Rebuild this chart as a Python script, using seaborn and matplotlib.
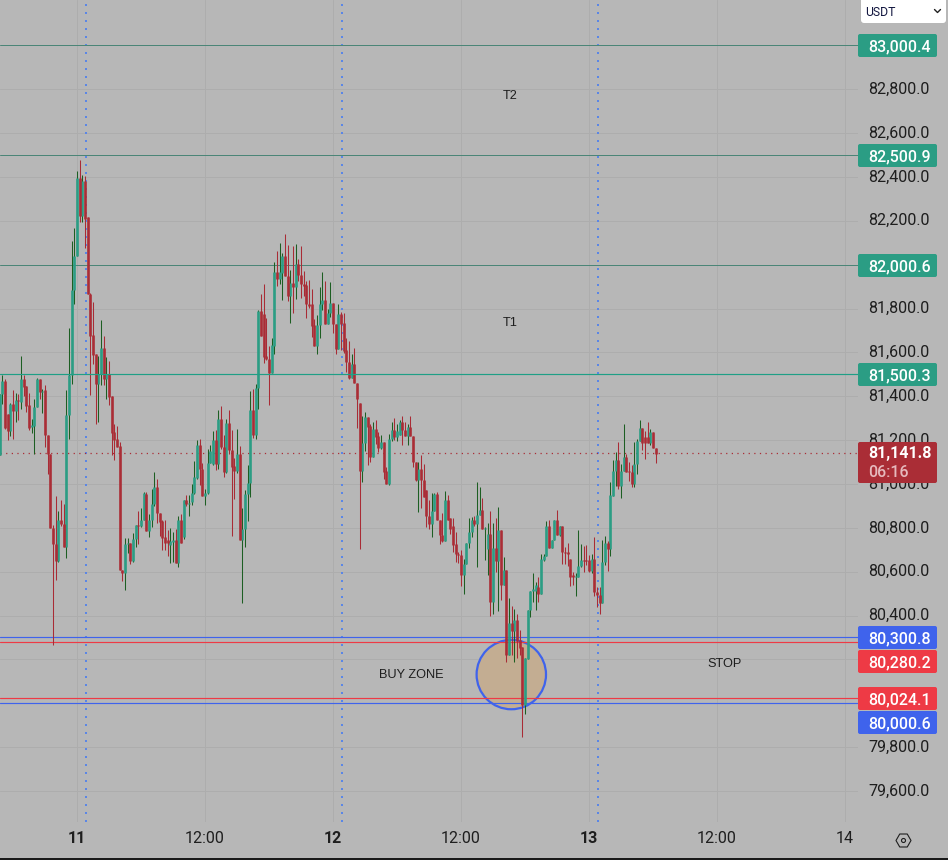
import matplotlib
matplotlib.use("Agg")
import matplotlib.pyplot as plt
import numpy as np
import pandas as pd
import seaborn as sns
from matplotlib.patches import Rectangle, FancyBboxPatch, Ellipse, RegularPolygon, Circle
from matplotlib.lines import Line2D
from matplotlib.transforms import IdentityTransform, ScaledTranslation

first_bar = -29   # index of first 15-minute bar relative to 11th 00:00
bars_per_day = 96

opens = [
 81133,81412,81468,81317,81241,81363,81332,81382,81374,81478,
 81446,81359,81258,81263,81349,81478,81420,81427,81222,81138,
 80801,80728,80649,80834,80816,80712,81313,81496,81884,82039,
 82397,82222,82380,82216,81868,81678,81591,81458,81501,81618,
 81478,81501,81400,81236,81204,81171,80610,80594,80725,80730,
 80649,80750,80811,80807,80838,80956,80785,80838,80910,80986,
 80867,80831,80758,80745,80720,80735,80745,80639,80838,80758,
 80925,80910,80918,80960,81027,81176,81070,80943,80960,81097,
 81090,81199,81090,81298,81168,81054,81279,81153,81080,81059,
 81138,80743,80796,80953,81006,81336,81222,81439,81787,81776,
 81582,81568,81506,81629,81966,81933,81962,82038,81947,81855,
 81918,81898,82001,81954,81913,81906,81822,81819,81723,81627,
 81726,81819,81840,81728,81781,81827,81728,81614,81776,81735,
 81609,81556,81485,81545,81462,81368,81059,81188,81305,81263,
 81123,81252,81217,81164,81190,81057,80998,81206,81244,81214,
 81222,81281,81247,81217,81260,81217,81098,81016,81070,81019,
 80971,80852,80816,80876,80953,80838,80769,80741,80926,80847,
 80807,80725,80683,80675,80584,80634,80733,80779,80835,80817,
 80858,80880,80797,80702,80771,80462,80706,80648,80792,80538,
 80610,80219,80364,80329,80379,80288,80257,79991,80204,80424,
 80513,80513,80530,80497,80654,80671,80807,80709,80746,80835,
 80766,80807,80690,80690,80657,80584,80577,80576,80626,80652,
 80652,80652,80602,80657,80508,80496,80458,80645,80733,80703,
 80946,81058,81108,80990,81058,81124,81058,81055,81002,81089,
 81195,81256,81215,81215,81187,81238,81162]
closes = [
 81412,81468,81257,81241,81366,81333,81382,81378,81478,81443,
 81355,81256,81268,81349,81478,81420,81425,81222,81138,80801,
 80728,80649,80834,80816,80712,81313,81496,81884,82039,82397,
 82222,82380,82210,81868,81675,81587,81458,81501,81618,81478,
 81501,81397,81233,81199,81168,80606,80594,80725,80730,80649,
 80750,80811,80807,80838,80959,80785,80838,80910,80986,80867,
 80826,80753,80731,80730,80738,80745,80639,80838,80731,80925,
 80910,80912,80960,81031,81176,81068,80943,80960,81097,81149,
 81199,81090,81298,81168,81054,81279,81153,81077,81059,81138,
 80743,80796,80953,81006,81336,81222,81439,81787,81675,81579,
 81568,81506,81632,81966,81933,81966,82038,81947,81855,81918,
 81898,82001,81951,81913,81903,81819,81810,81719,81627,81726,
 81819,81840,81728,81781,81827,81728,81614,81776,81731,81606,
 81556,81485,81545,81462,81386,81059,81188,81305,81260,81123,
 81252,81214,81164,81190,81054,80998,81206,81244,81214,81240,
 81281,81244,81217,81260,81217,81098,81016,81070,81016,80940,
 80852,80816,80876,80953,80838,80769,80741,80926,80835,80797,
 80721,80683,80675,80584,80634,80733,80779,80835,80817,80858,
 80880,80797,80800,80771,80462,80706,80648,80792,80538,80610,
 80219,80364,80329,80379,80285,80250,79991,80207,80427,80513,
 80523,80538,80500,80657,80671,80807,80709,80746,80835,80766,
 80807,80690,80686,80683,80576,80576,80580,80626,80652,80648,
 80648,80602,80657,80508,80496,80458,80645,80733,80703,80949,
 81058,81108,80990,81058,81124,81055,81055,81002,81089,81197,
 81256,81187,81187,81187,81238,81162,81139]
highs = [
 81412,81498,81477,81317,81370,81427,81417,81409,81583,81496,
 81446,81414,81298,81387,81482,81478,81434,81450,81222,81138,
 80811,80943,80875,80925,80907,81427,81710,82107,82169,82426,
 82476,82408,82403,82216,81873,81829,81591,81583,81747,81674,
 81580,81561,81400,81272,81263,81191,80610,80755,80755,80730,
 80778,80815,80876,80889,80963,80963,80864,80975,81053,81021,
 80867,80835,80834,80790,80800,80782,80797,80852,80864,80925,
 80948,80948,81001,81103,81202,81206,81097,80975,81158,81180,
 81240,81244,81336,81354,81222,81298,81336,81244,81118,81249,
 81171,80892,80974,81085,81422,81431,81457,81792,81868,81913,
 81758,81627,81667,82010,82061,82100,82053,82138,82088,81974,
 82083,82093,82024,82083,81969,81924,81928,81887,81751,81769,
 81898,81966,81924,81799,81919,81827,81731,81819,81784,81781,
 81667,81650,81591,81618,81462,81368,81308,81326,81305,81272,
 81281,81293,81235,81222,81190,81077,81226,81281,81299,81275,
 81290,81308,81283,81272,81308,81217,81098,81102,81130,81092,
 80971,80928,80961,80961,80964,80838,80868,80967,80952,80847,
 80847,80782,80690,80700,80660,80733,80847,80850,80853,81007,
 80984,80934,80804,80820,80877,80823,80847,80893,80792,80665,
 80610,80478,80444,80432,80409,80333,80257,80207,80427,80513,
 80595,80553,80574,80683,80680,80832,80835,80746,80835,80883,
 80807,80807,80713,80731,80657,80600,80592,80789,80728,80718,
 80721,80678,80683,80759,80530,80530,80744,80762,80740,81010,
 81108,81146,81192,81090,81273,81139,81101,81086,81192,81207,
 81294,81256,81242,81282,81253,81238,81162]
lows = [
 81130,81366,81250,81202,81219,81203,81283,81291,81341,81400,
 81329,81245,81233,81138,81349,81388,81324,81170,81047,80801,
 80264,80560,80645,80810,80712,80662,81206,81458,81820,82039,
 82195,82195,82077,81868,81405,81549,81272,81283,81450,81450,
 81387,81359,81130,81108,81168,80606,80557,80515,80685,80633,
 80645,80712,80725,80804,80835,80785,80758,80804,80900,80822,
 80762,80700,80697,80670,80641,80644,80639,80621,80731,80750,
 80898,80854,80902,80955,81025,80994,80943,80902,80955,81097,
 81085,81062,81070,81160,81032,81050,81138,80761,80931,81050,
 80743,80457,80712,80831,80940,81211,81206,81343,81675,81551,
 81567,81358,81506,81591,81901,81910,81837,81947,81833,81734,
 81781,81842,81925,81848,81855,81757,81804,81670,81627,81591,
 81664,81795,81728,81728,81761,81688,81591,81614,81609,81597,
 81510,81477,81485,81462,81257,80702,81009,81150,81085,81098,
 81123,81181,81144,81160,81021,80998,80994,81196,81200,81196,
 81222,81176,81217,81176,81217,81077,81013,80870,80890,80940,
 80804,80794,80759,80876,80838,80728,80735,80741,80835,80770,
 80690,80642,80640,80534,80497,80634,80710,80760,80810,80622,
 80858,80797,80652,80584,80397,80409,80600,80421,80470,80538,
 80189,80219,80219,80189,80207,80219,79847,79950,80204,80395,
 80462,80427,80460,80497,80650,80671,80709,80709,80746,80766,
 80762,80637,80634,80627,80534,80540,80490,80576,80620,80600,
 80630,80600,80595,80488,80440,80409,80458,80630,80604,80672,
 80946,80990,80979,80934,81058,81055,81014,80987,80987,81044,
 81195,81154,81112,81187,81180,81162,81096]

price_ticks = [79600, 79800, 80000, 80200, 80400, 80600, 80800, 81000,
               81200, 81400, 81600, 81800, 82000, 82200, 82400, 82600, 82800]
hidden_price_labels = [80000, 80200]  # fully covered by a price tag in the reference
time_ticks = [0, 0.5, 1, 1.5, 2, 2.5, 3]
time_labels = ["11", "12:00", "12", "12:00", "13", "12:00", "14"]
session_lines = [8.8 / 256, 1 + 8.8 / 256, 2 + 8.8 / 256]
green_levels = [83000.4, 82500.9, 82000.6]
entry_level = 81500.3
blue_levels = [80300.8, 80000.6]
red_levels = [80280.2, 80024.1]
last_price = 81141.8
countdown = "06:16"

BG = "#b7b7b7"
GRID = "#adadad"
GREEN = "#2b9d84"
GREEN_WICK = "#1d5e22"
RED = "#aa2d36"
RED_WICK = "#a92b35"
BLUE = "#3f63ec"
BRIGHT_RED = "#ee3a45"
TAG_GREEN = "#2b9d84"
TEXT = "#1e1e1e"

sns.set_theme(style="white", rc={"figure.facecolor": BG, "axes.facecolor": BG})
plt.rcParams["font.family"] = ["Roboto", "DejaVu Sans"]

W, H = 948, 860
PX_RIGHT, PX_BOTTOM = 858, 822
PX_PER_DAY, PX_PER_UNIT = 256.0, 0.2193
fig = plt.figure(figsize=(W / 100, H / 100), dpi=100, facecolor=BG)
ax = fig.add_axes([0, (H - PX_BOTTOM) / H, PX_RIGHT / W, PX_BOTTOM / H])

n = len(opens)
t = (first_bar + np.arange(n)) / bars_per_day
base = pd.DataFrame({"bar": np.arange(n), "t": t, "open": opens, "close": closes,
                     "high": highs, "low": lows})
base["side"] = np.where(base["close"] >= base["open"], "up", "down")

wick = base.melt(id_vars=["bar", "t", "side"], value_vars=["low", "high"], value_name="price")
body = base.melt(id_vars=["bar", "t", "side"], value_vars=["open", "close"], value_name="price")

ax.add_patch(Ellipse((1.6965, 80131), 69.4 / PX_PER_DAY, 69.4 / PX_PER_UNIT,
                     facecolor="#c3ad92", edgecolor=BLUE, linewidth=1.6, zorder=2))

sns.lineplot(data=wick, x="t", y="price", hue="side", units="bar", estimator=None,
             palette={"up": GREEN_WICK, "down": RED_WICK}, hue_order=["up", "down"],
             linewidth=0.75, solid_capstyle="butt", sort=False, legend=False, ax=ax, zorder=3)
sns.lineplot(data=body, x="t", y="price", hue="side", units="bar", estimator=None,
             palette={"up": GREEN, "down": RED}, hue_order=["up", "down"],
             linewidth=1.9, solid_capstyle="butt", sort=False, legend=False, ax=ax, zorder=4)

ax.set_xlim(-77 / PX_PER_DAY, (PX_RIGHT - 77) / PX_PER_DAY)
top = green_levels[0] + 45.3 / PX_PER_UNIT
ax.set_ylim(top - PX_BOTTOM / PX_PER_UNIT, top)
ax.set_xlabel("")
ax.set_ylabel("")

ax.set_axisbelow(True)
ax.grid(True, color=GRID, linewidth=0.72)
for s in ax.spines.values():
    s.set_visible(False)
ax.yaxis.tick_right()
ax.set_yticks(price_ticks)
ax.set_yticklabels(["" if v in hidden_price_labels else f"{v:,.1f}" for v in price_ticks])
ax.set_xticks(time_ticks)
ax.set_xticklabels(time_labels)
ax.tick_params(axis="y", length=0, pad=7.2, labelsize=11.5, labelcolor=TEXT)
ax.tick_params(axis="x", length=0, pad=6.5, labelsize=11.5, labelcolor=TEXT)
label_nudge = ScaledTranslation(0, 1.5 / 100, fig.dpi_scale_trans)
for tick in ax.yaxis.get_major_ticks():
    tick.label2.set_verticalalignment("center_baseline")
    tick.label2.set_transform(tick.label2.get_transform() + label_nudge)
for lab, txt in zip(ax.get_xticklabels(), time_labels):
    if txt in ("11", "12", "13"):
        lab.set_fontweight("bold")

for x in session_lines:
    ax.axvline(x, color="#5a86e6", linewidth=1.44, linestyle=(0, (1, 3)), zorder=2.5)
for v in green_levels:
    ax.axhline(v, color="#4b8577", linewidth=0.72, zorder=2.6)
ax.axhline(entry_level, color="#1f9f86", linewidth=0.85, zorder=5)
for v in blue_levels:
    ax.axhline(v, color=BLUE, linewidth=0.85, zorder=2.6)
for v in red_levels:
    ax.axhline(v, color=BRIGHT_RED, linewidth=0.85, zorder=2.7)
ax.axhline(last_price, color=RED, linewidth=0.9, linestyle=(0, (1, 3.5)), zorder=2.6)

note_font = dict(family="Liberation Sans", fontsize=9.2, color=TEXT, ha="center",
                 va="center", zorder=6)
ax.text(1.691, 82768, "T2", **note_font)
ax.text(1.691, 81733, "T1", **note_font)
ax.text(1.305, 80128, "BUY ZONE", **note_font)
ax.text(2.531, 80178, "STOP", **note_font)

px = IdentityTransform()


def tag(y_top, height, colour):
    fig.add_artist(FancyBboxPatch((858 + 1, H - y_top - height + 1), 79 - 2, height - 2,
                                  boxstyle="round,pad=1,rounding_size=2", facecolor=colour,
                                  edgecolor="none", transform=px, zorder=5))


def tag_text(y, s, colour="white", weight="medium"):
    fig.text(868 / W, 1 - y / H, s, color=colour, fontsize=11.5, fontweight=weight,
             ha="left", va="center_baseline", zorder=6)


tags = [(green_levels[0], 34, TAG_GREEN), (green_levels[1], 144, TAG_GREEN),
        (green_levels[2], 254, TAG_GREEN), (entry_level, 363, TAG_GREEN),
        (blue_levels[0], 626, BLUE), (red_levels[0], 650, BRIGHT_RED),
        (red_levels[1], 687, BRIGHT_RED), (blue_levels[1], 711, BLUE)]
for value, y_top, colour in tags:
    tag(y_top, 23, colour)
    tag_text(y_top + 11, f"{value:,.1f}")

tag(442, 41, RED)
tag_text(452, f"{last_price:,.1f}", weight="bold")
tag_text(471.5, countdown, colour="#e6b9bd")

fig.add_artist(FancyBboxPatch((863, H - 21), 81, 23, boxstyle="round,pad=2,rounding_size=3",
                              facecolor="white", edgecolor="none", transform=px, zorder=5))
fig.text(865 / W, 1 - 10.5 / H, "USDT", color="#131740", fontsize=8.8, ha="left",
         va="center_baseline", zorder=6)
fig.add_artist(Line2D([934.5, 937.5, 940.5], [H - 9.5, H - 12.5, H - 9.5], color="#222222",
                      linewidth=1.0, transform=px, zorder=6))

fig.add_artist(RegularPolygon((903.5, H - 840.5), 6, radius=7.5, orientation=np.pi / 2,
                              facecolor="none", edgecolor=TEXT, linewidth=0.8, transform=px,
                              zorder=6))
fig.add_artist(Circle((903.5, H - 840.5), 2, facecolor="none", edgecolor=TEXT, linewidth=0.8,
                      transform=px, zorder=6))
fig.add_artist(Rectangle((0, 0), W, 2, facecolor="#1a1a1a", edgecolor="none", transform=px,
                         zorder=6))

fig.savefig("out.png", dpi=100, facecolor=BG)
